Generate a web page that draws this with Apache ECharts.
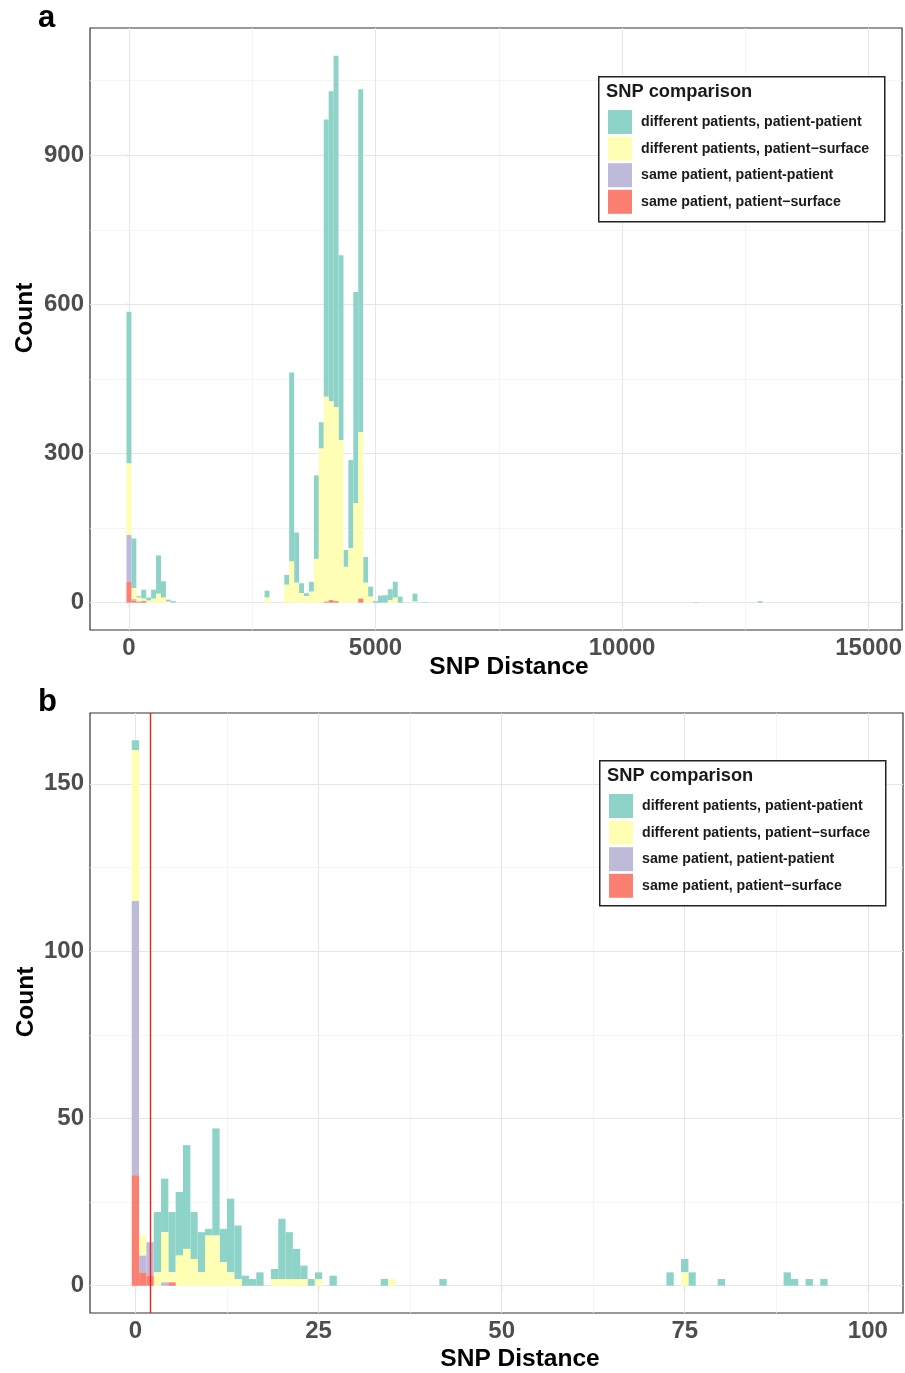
<!DOCTYPE html>
<html><head><meta charset="utf-8">
<script src="https://cdn.jsdelivr.net/npm/echarts@6/dist/echarts.min.js"></script>
<style>html,body{margin:0;padding:0;background:#fff}#chart{width:905px;height:1373px}</style>
</head><body><div id="chart"></div>
<script>
// ---------- shared ----------
const seriesNames = ['different patients, patient-patient', 'different patients, patient\u2212surface', 'same patient, patient-patient', 'same patient, patient\u2212surface'];
const seriesColors = ['#8DD3C7', '#FFFFB3', '#BEBADA', '#FB8072'];
const legendTitle = 'SNP comparison';
const xTitle = 'SNP Distance';
const yTitle = 'Count';

// ---------- panel a (bin width 100, bins centred on values) ----------
const aBinWidth = 100;
const aBins    = [0, 100, 200, 300, 400, 500, 600, 700, 800, 900, 2800, 3200, 3300, 3400, 3500, 3600, 3700, 3800, 3900, 4000, 4100, 4200, 4300, 4400, 4500, 4600, 4700, 4800, 4900, 5000, 5100, 5200, 5300, 5400, 5500, 5800, 6000, 11500, 12800];
const aDiffPP  = [305, 100, 3, 18, 6, 18, 77, 33, 4, 3, 14, 20, 380, 101, 20, 6, 20, 168, 53, 558, 624, 707, 372, 34, 177, 425, 690, 52, 20, 3, 14, 15, 22, 32, 12, 16, 1, 1, 3];
const aDiffPS  = [144, 22, 8, 5, 4, 8, 18, 10, 2, 0, 10, 36, 83, 40, 19, 13, 22, 88, 310, 412, 400, 390, 327, 72, 110, 200, 335, 40, 12, 0, 0, 0, 5, 10, 0, 2, 0, 0, 0];
const aSamePP  = [94, 3, 0, 0, 0, 0, 0, 0, 0, 0, 0, 0, 0, 0, 0, 0, 0, 0, 0, 0, 0, 0, 0, 0, 0, 0, 0, 0, 0, 0, 0, 0, 0, 0, 0, 0, 0, 0, 0];
const aSamePS  = [42, 4, 2, 3, 0, 0, 0, 0, 0, 0, 0, 0, 0, 0, 0, 0, 0, 0, 0, 2, 5, 3, 0, 0, 0, 0, 8, 0, 0, 0, 0, 0, 0, 0, 0, 0, 0, 0, 0];
const aXTicks  = [0, 5000, 10000, 15000];
const aXMinor  = [2500, 7500, 12500];
const aYTicks  = [0, 300, 600, 900];
const aYMinor  = [150, 450, 750, 1050];

// ---------- panel b (bin width 1) ----------
const bBinWidth = 1;
const bBins    = [0, 1, 2, 3, 4, 5, 6, 7, 8, 9, 10, 11, 12, 13, 14, 15, 16, 17, 19, 20, 21, 22, 23, 24, 25, 27, 34, 35, 42, 73, 75, 76, 80, 89, 90, 92, 94];
const bDiffPP  = [3, 0, 0, 18, 16, 18, 19, 31, 14, 12, 2, 32, 10, 22, 16, 3, 2, 4, 3, 18, 14, 9, 4, 2, 2, 3, 2, 0, 2, 4, 4, 4, 2, 4, 2, 2, 2];
const bDiffPS  = [45, 6, 0, 4, 15, 3, 9, 11, 8, 4, 15, 15, 7, 4, 2, 0, 0, 0, 2, 2, 2, 2, 2, 0, 2, 0, 0, 2, 0, 0, 4, 0, 0, 0, 0, 0, 0];
const bSamePP  = [82, 5, 10, 0, 1, 0, 0, 0, 0, 0, 0, 0, 0, 0, 0, 0, 0, 0, 0, 0, 0, 0, 0, 0, 0, 0, 0, 0, 0, 0, 0, 0, 0, 0, 0, 0, 0];
const bSamePS  = [33, 4, 3, 0, 0, 1, 0, 0, 0, 0, 0, 0, 0, 0, 0, 0, 0, 0, 0, 0, 0, 0, 0, 0, 0, 0, 0, 0, 0, 0, 0, 0, 0, 0, 0, 0, 0];
const bXTicks  = [0, 25, 50, 75, 100];
const bXMinor  = [12.5, 37.5, 62.5, 87.5];
const bYTicks  = [0, 50, 100, 150];
const bYMinor  = [25, 75, 125];
const bThreshold = [2];

// ---------- helpers ----------
const FONT = 'Liberation Sans, Arial, Helvetica, sans-serif';

// stack bottom -> top: same/surface, same/patient, diff/surface, diff/patient
function stackHist(bins, width, top2bottom) {
  const order = [3, 2, 1, 0];
  const out = [[], [], [], []];
  bins.forEach((b, i) => {
    let base = 0;
    order.forEach(s => {
      const v = top2bottom[s][i];
      if (v > 0) {
        out[s].push([b - width / 2, b + width / 2, base, base + v]);
        base += v;
      }
    });
  });
  return out;
}

function rectRender(color) {
  return function (params, api) {
    const p0 = api.coord([api.value(0), api.value(3)]);
    const p1 = api.coord([api.value(1), api.value(2)]);
    return {
      type: 'rect',
      shape: { x: p0[0], y: p0[1], width: p1[0] - p0[0], height: p1[1] - p0[1] },
      style: { fill: color }
    };
  };
}

function lineSet(values, key, color, width) {
  return values.map(v => ({ [key]: v, lineStyle: { color: color, width: width, type: 'solid' } }));
}

function gridSeries(idx, xt, xm, yt, ym) {
  return {
    type: 'line', xAxisIndex: idx, yAxisIndex: idx, data: [], silent: true, z: 1,
    markLine: {
      silent: true, symbol: ['none', 'none'], label: { show: false }, z: 1, animation: false,
      emphasis: { disabled: true },
      data: [].concat(
        lineSet(xm, 'xAxis', '#f3f3f3', 0.8),
        lineSet(ym, 'yAxis', '#f3f3f3', 0.8),
        lineSet(xt, 'xAxis', '#e6e6e6', 1.1),
        lineSet(yt, 'yAxis', '#e6e6e6', 1.1)
      )
    }
  };
}

const aStack = stackHist(aBins, aBinWidth, [aDiffPP, aDiffPS, aSamePP, aSamePS]);
const bStack = stackHist(bBins, bBinWidth, [bDiffPP, bDiffPS, bSamePP, bSamePS]);

const series = [
  gridSeries(0, aXTicks, aXMinor, aYTicks, aYMinor),
  gridSeries(1, bXTicks, bXMinor, bYTicks, bYMinor)
];
[[0, aStack], [1, bStack]].forEach(([idx, st]) => {
  seriesNames.forEach((name, s) => {
    series.push({
      type: 'custom', name: name, xAxisIndex: idx, yAxisIndex: idx, z: 3,
      itemStyle: { color: seriesColors[s] },
      encode: { x: [0, 1], y: [2, 3] },
      data: st[s],
      renderItem: rectRender(seriesColors[s])
    });
  });
});
// threshold line (panel b)
series.push({
  type: 'line', xAxisIndex: 1, yAxisIndex: 1, data: [], silent: true, z: 6,
  markLine: {
    silent: true, symbol: ['none', 'none'], label: { show: false }, z: 6, animation: false,
    emphasis: { disabled: true },
    data: lineSet(bThreshold, 'xAxis', '#e8231f', 1.4)
  }
});

function axisCommon(idx, min, max, ticks) {
  return {
    type: 'value', gridIndex: idx, min: min, max: max,
    axisLine: { show: false }, splitLine: { show: false },
    axisTick: { show: true, customValues: ticks, length: 4, lineStyle: { color: '#333', width: 1.1 } },
    axisLabel: { customValues: ticks, formatter: v => String(v), color: '#4d4d4d', fontSize: 24, fontWeight: 'bold', fontFamily: FONT, margin: 6 }
  };
}

function titleText(text, x, y, rotate) {
  return { type: 'text', x: x, y: y, rotation: rotate ? Math.PI / 2 : 0, z: 10,
    style: { text: text, fill: '#000', font: 'bold 24.5px ' + FONT, textAlign: 'center', textVerticalAlign: 'middle' } };
}

function legendBox(x, y) {
  return [
    { type: 'rect', left: x, top: y, z: 20, shape: { width: 286, height: 145 },
      style: { fill: '#fff', stroke: '#222', lineWidth: 1.5 } },
    { type: 'text', left: x + 8, top: y + 7, z: 21,
      style: { text: legendTitle, fill: '#1a1a1a', font: 'bold 18.3px ' + FONT } }
  ];
}
function legend(x, y) {
  return {
    orient: 'vertical', left: x, top: y, z: 30, icon: 'rect', selectedMode: false,
    itemWidth: 24, itemHeight: 24, itemGap: 2.6, padding: 0,
    data: seriesNames,
    textStyle: { fontSize: 14.2, fontWeight: 'bold', color: '#1a1a1a', fontFamily: FONT, padding: [0, 0, 0, 4] }
  };
}

const option = {
  animation: false,
  backgroundColor: '#fff',
  grid: [
    { left: 90, top: 28, width: 813, height: 602, show: true, borderColor: '#333', borderWidth: 1.2, backgroundColor: 'transparent' },
    { left: 90, top: 713, width: 813, height: 600, show: true, borderColor: '#333', borderWidth: 1.2, backgroundColor: 'transparent' }
  ],
  xAxis: [axisCommon(0, -790, 15678, aXTicks), axisCommon(1, -6.2, 104.8, bXTicks)],
  yAxis: [axisCommon(0, -55.05, 1156.05, aYTicks), axisCommon(1, -8.15, 171.15, bYTicks)],
  legend: [legend(608, 110), legend(609, 794)],
  graphic: [
    { type: 'text', left: 38, top: 3, style: { text: 'a', fill: '#000', font: 'bold 31px ' + FONT } },
    { type: 'text', left: 38, top: 687, style: { text: 'b', fill: '#000', font: 'bold 31px ' + FONT } },
    titleText(xTitle, 509, 667, false),
    titleText(xTitle, 520, 1359, false),
    titleText(yTitle, 25, 318, true),
    titleText(yTitle, 26, 1002, true)
  ].concat(legendBox(598, 76), legendBox(599, 760)),
  series: series
};

const chart = echarts.init(document.getElementById('chart'), null, { renderer: 'canvas' });
chart.setOption(option);
</script>
</body></html>
